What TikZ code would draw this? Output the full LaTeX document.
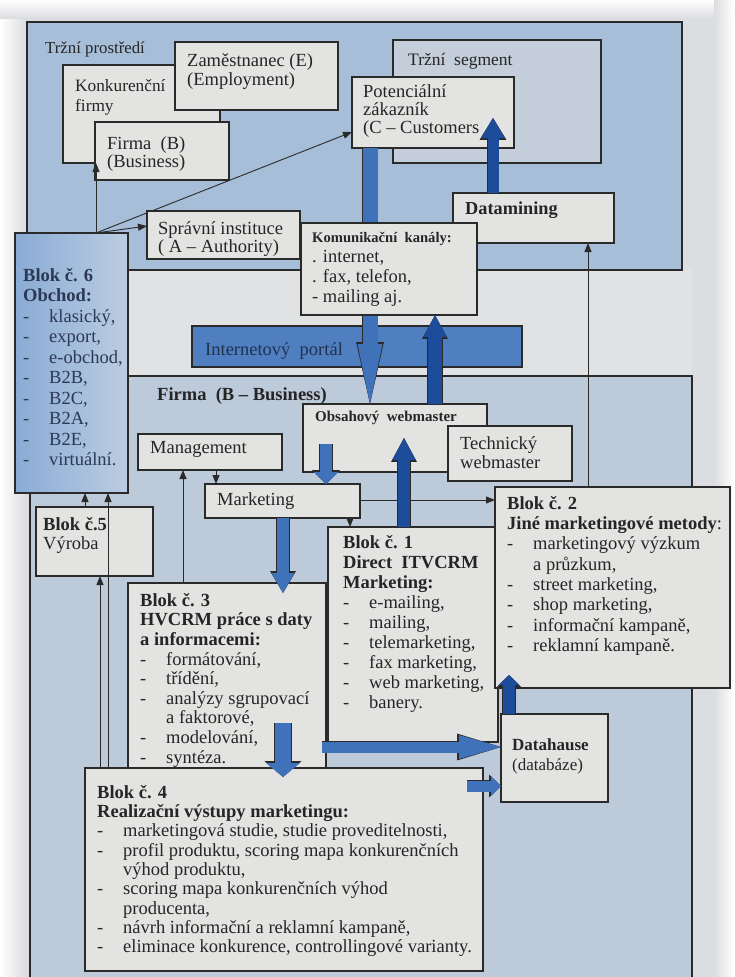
\documentclass[tikz,border=0pt]{standalone}
\usepackage{fontspec}
\setmainfont{Liberation Serif}
\usetikzlibrary{arrows.meta}

\definecolor{pagec}{HTML}{DCDDE0}
\definecolor{gapc}{HTML}{E1E2E4}
\definecolor{trhc}{HTML}{A7BED8}
\definecolor{firmc}{HTML}{BCCADA}
\definecolor{segc}{HTML}{C5CFDB}
\definecolor{boxc}{HTML}{E3E4E2}
\definecolor{b6a}{HTML}{8AABD5}
\definecolor{b6b}{HTML}{BBCDE2}
\definecolor{portc}{HTML}{4F7FC0}
\definecolor{porttext}{HTML}{22324D}
\definecolor{darkar}{HTML}{1D4D9A}
\definecolor{medar}{HTML}{3F72B8}
\definecolor{inkc}{HTML}{252525}
\definecolor{linec}{HTML}{2A2A2A}
\definecolor{b6ink}{HTML}{2C3954}

% strut for the first line of a text block, item dash and continuation indent
\newcommand\fl{\rule{0pt}{13pt}}
\newcommand\itm{\makebox[26pt][l]{-}}
\newcommand\cont{\hspace*{26pt}}

% thick outlined block arrow: colour, shaft width, head width, head length, from, to
\newcommand\blockarrow[6]{%
  \pgfmathsetmacro\bsw{#2+1.8}%
  \pgfmathsetmacro\bhw{#3+2.8}%
  \pgfmathsetmacro\bhl{#4+1.8}%
  \draw[color=linec, line width=\bsw pt, -{Triangle[width=\bhw pt,length=\bhl pt,line width=0pt]}] #5 -- #6;
  \draw[color=#1, line width=#2pt, -{Triangle[width=#3pt,length=#4pt,line width=0pt]}] #5 -- #6;}

\begin{document}
\begin{tikzpicture}[x=1pt,y=-1pt,
  region/.style={draw=linec, line width=1.3pt, anchor=north west, inner sep=0pt, outer sep=0pt},
  box/.style={region, fill=boxc},
  txt/.style={anchor=north west, inner sep=0pt, align=left, text=inkc, font=\fontsize{18.5}{#1}\selectfont},
  txt/.default=20,
  lbl/.style={anchor=base west, inner sep=0pt, text=inkc, font=\fontsize{18.5}{20}\selectfont},
  hb/.style={lbl, font=\fontsize{15}{18}\selectfont\bfseries},
  conn/.style={draw=linec, line width=0.9pt, -{Triangle[length=9pt,width=7pt]}},
]
\useasboundingbox (0,0) rectangle (734,977);

% page
\fill[pagec] (0,0) rectangle (734,977);
\shade[left color=white, right color=pagec] (0,0) rectangle (26,977);
\shade[top color=white, bottom color=pagec] (0,0) rectangle (734,18);
\shade[left color=pagec, right color=white] (714,0) rectangle (734,977);
\fill[gapc] (27,270) rectangle (692,376);

% market environment and company regions
\node[region, fill=trhc, minimum width=655pt, minimum height=248pt] (trh) at (27,22) {};
\node[region, fill=firmc, minimum width=662pt, minimum height=615pt] (firm) at (30,376) {};
\node[lbl, font=\fontsize{16.8}{18}\selectfont] (ltrh) at (45,53) {Tržní prostředí};

% market actors
\node[box, minimum width=157pt, minimum height=98pt] (konk) at (63,65) {};
\node[txt, font=\fontsize{17.3}{20}\selectfont] (tkonk) at (75,78) {\fl Konkurenční\\firmy};
\node[box, minimum width=163pt, minimum height=68pt] (zam) at (175,42) {};
\node[txt=19] (tzam) at (187,53) {\fl Zaměstnanec (E)\\(Employment)};
\node[box, minimum width=134pt, minimum height=58pt] (firmab) at (95,122) {};
\node[txt=18] (tfirmab) at (107,136) {\fl Firma\ \ (B)\\(Business)};
\node[region, fill=segc, minimum width=208pt, minimum height=123pt] (seg) at (393,40) {};
\node[lbl, font=\fontsize{17.5}{18}\selectfont] (lseg) at (408,65) {Tržní\ \ segment};
\node[box, minimum width=162pt, minimum height=71pt] (pot) at (352,77) {};
\node[txt=18] (tpot) at (363,84) {\fl Potenciální\\zákazník\\(C – Customers};
\node[box, minimum width=161pt, minimum height=50pt] (datam) at (453,193) {};
\node[lbl, font=\fontsize{18.3}{20}\selectfont\bfseries] (ldatam) at (465,214) {Datamining};

% block 6 and its links to the market
\node[region, left color=b6a, right color=b6b, minimum width=113pt, minimum height=260pt] (blok6) at (15,233) {};
\coordinate (b6top) at (blok6.north -| 96,0);
\draw[conn] (b6top) -- (konk.south -| b6top);
\draw[conn] (b6top) -- (pot.west |- 0,132);
\node[box, minimum width=153pt, minimum height=48pt] (spr) at (147,211) {};
\node[txt=18] (tspr) at (158,221) {\fl Správní instituce\\( A – Authority)};
\draw[conn] (b6top) -- (spr.west |- 0,226);
\node[txt=20.5, text=b6ink] (tb6) at (23,268) {\fl\textbf{Blok č. 6}\\\textbf{Obchod:}\\\itm klasický,\\\itm export,\\\itm e-obchod,\\\itm B2B,\\\itm B2C,\\\itm B2A,\\\itm B2E,\\\itm virtuální.};

% portal
\node[region, fill=portc, minimum width=330pt, minimum height=41pt] (portal) at (192,326) {};
\node[lbl, text=porttext] (lportal) at (205,355) {Internetový\ \ portál};
\node[lbl, font=\fontsize{18.5}{20}\selectfont\bfseries] (lfirm) at (157,400) {Firma\ \ (B – Business)};

% webmasters
\node[box, minimum width=184pt, minimum height=68pt] (obs) at (303,404) {};
\node[box, minimum width=124pt, minimum height=55pt] (tech) at (448,426) {};
\node[hb] (lobs) at (315,421) {Obsahový\ \ webmaster};
\node[txt=19] (ttech) at (460,436) {\fl Technický\\webmaster};

\blockarrow{medar}{15}{25}{60}{(pot.south -| 370,0)}{(obs.north -| 370,0)}

% communication channels
\node[box, minimum width=176pt, minimum height=92pt] (kom) at (301,223) {};
\node[hb, font=\fontsize{14.6}{18}\selectfont\bfseries] (lkom) at (312,242) {Komunikační\ \ kanály:};
\node[txt] (tkom) at (312,249) {\fl . internet,\\. fax, telefon,\\- mailing aj.};
\blockarrow{darkar}{14}{23}{22}{(obs.north -| 435,0)}{(kom.south -| 435,0)}

% datamining feeds the customers
\coordinate (potin) at (493,118);
\blockarrow{darkar}{11}{24}{20}{(datam.north -| 493,0)}{(potin)}

% management and marketing
\node[box, minimum width=144pt, minimum height=36pt] (mgmt) at (138,434) {};
\node[lbl] (lmgmt) at (150,453) {Management};
\node[box, minimum width=155pt, minimum height=34pt] (mkt) at (205,484) {};
\node[lbl] (lmkt) at (217,505) {Marketing};

% block 5
\node[box, minimum width=117pt, minimum height=69pt] (blok5) at (36,507) {};
\node[txt=19] (tb5) at (43,517) {\fl\textbf{Blok č.5}\\Výroba};

% block 3
\node[box, minimum width=198pt, minimum height=189pt] (blok3) at (128,583) {};
\node[txt=19.6] (tb3) at (140,593) {\fl\textbf{Blok č. 3}\\\textbf{HVCRM práce s daty}\\\textbf{a informacemi:}\\\itm formátování,\\\itm třídění,\\\itm analýzy sgrupovací\\\cont a faktorové,\\\itm modelování,\\\itm syntéza.};

% block 1
\node[box, minimum width=170pt, minimum height=215pt] (blok1) at (328,527) {};
\node[txt] (tb1) at (343,535) {\fl\textbf{Blok č. 1}\\\textbf{Direct\ \ ITVCRM}\\\textbf{Marketing:}\\\itm e-mailing,\\\itm mailing,\\\itm telemarketing,\\\itm fax marketing,\\\itm web marketing,\\\itm banery.};

% block 2
\node[box, minimum width=235pt, minimum height=201pt] (blok2) at (495,487) {};
\node[txt=20.3] (tb2) at (507,496) {\fl\textbf{Blok č. 2}\\\textbf{Jiné marketingové metody}:\\\itm marketingový výzkum\\\cont a průzkum,\\\itm street marketing,\\\itm shop marketing,\\\itm informační kampaně,\\\itm reklamní kampaně.};

% data warehouse
\node[box, minimum width=107pt, minimum height=88pt] (datah) at (501,714) {};
\node[txt, font=\fontsize{17}{20}\selectfont] (tdatah) at (512,737) {\fl\textbf{Datahause}\\(databáze)};

% block 4
\node[box, minimum width=398pt, minimum height=203pt] (blok4) at (85,768) {};
\node[txt=19.3] (tb4) at (97,785) {\fl\textbf{Blok č. 4}\\\textbf{Realizační výstupy marketingu:}\\\itm marketingová studie, studie proveditelnosti,\\\itm profil produktu, scoring mapa konkurenčních\\\cont výhod produktu,\\\itm scoring mapa konkurenčních výhod\\\cont producenta,\\\itm návrh informační a reklamní kampaně,\\\itm eliminace konkurence, controllingové varianty.};

% thin connectors
\draw[conn] (mgmt.south -| 216,0) -- (mkt.north -| 216,0);
\draw[conn] (blok3.north -| 183,0) -- (mgmt.south -| 183,0);
\draw[conn] (mkt.south -| 350,0) -- (blok1.north -| 350,0);
\draw[conn] (mkt.east |- 0,500) -- (blok2.west |- 0,500);
\draw[conn] (blok2.north -| 588,0) -- (datam.south -| 588,0);
\draw[conn] (blok5.north -| 85,0) -- (blok6.south -| 85,0);
\draw[conn] (blok4.north -| 100,0) -- (blok5.south -| 100,0);
\draw[conn] (blok4.north -| 108,0) -- (blok6.south -| 108,0);

% block arrows between the company blocks
\coordinate (obsin) at (326,444);
\blockarrow{medar}{12}{25}{12}{(obsin)}{(mkt.north -| 326,0)}
\coordinate (obsin2) at (404,438);
\blockarrow{darkar}{12}{23}{22}{(blok1.north -| 404,0)}{(obsin2)}
\coordinate (b3in) at (283,593);
\blockarrow{medar}{12}{23}{20}{(mkt.south -| 283,0)}{(b3in)}
\coordinate (b3out) at (283,723);
\coordinate (b4in) at (283,777);
\blockarrow{medar}{16}{34}{14}{(b3out)}{(b4in)}
\coordinate (b3right) at (322,747);
\blockarrow{medar}{11}{24}{42}{(b3right)}{(datah.west |- 0,747)}
\coordinate (b4right) at (467,786);
\blockarrow{medar}{11}{20}{10}{(b4right)}{(datah.west |- 0,786)}
\coordinate (b2in) at (509,675);
\blockarrow{darkar}{12}{21}{10}{(datah.north -| 509,0)}{(b2in)}
\end{tikzpicture}
\end{document}
